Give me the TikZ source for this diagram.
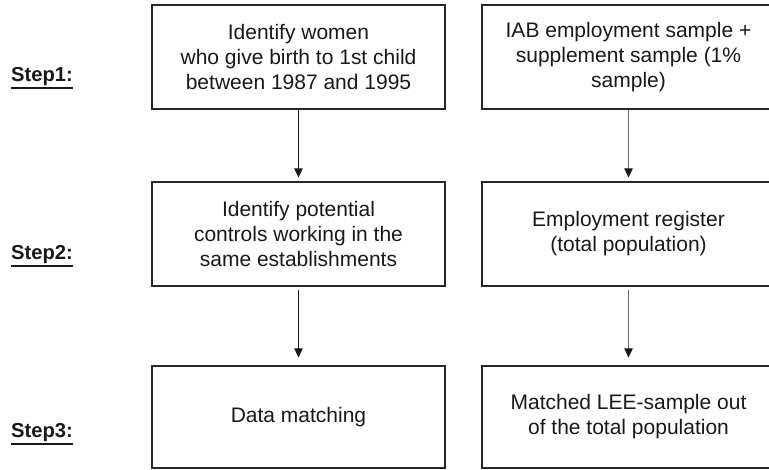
\documentclass[tikz,border=0pt]{standalone}
\usepackage{fontspec}
\setmainfont{Liberation Sans}
\usetikzlibrary{arrows.meta}
\begin{document}
\begin{tikzpicture}[x=1pt,y=1pt,
 box/.style={draw=black!85, line width=1.2pt, minimum width=293pt, align=center, inner sep=0pt, text=black!90, font=\fontsize{21}{25}\selectfont},
 steplabel/.style={anchor=base west, inner sep=0pt, font=\bfseries\fontsize{20.2}{23}\selectfont, text=black!90},
 uline/.style={line width=2.2pt, draw=black!90},
 arrl/.style={line width=1.1pt, draw=black!90, -{Triangle[width=8.5pt,length=9pt]}},
 arrr/.style={line width=1.1pt, draw=black!60, -{Triangle[width=8.5pt,length=9pt,color=black!90]}},
]
\useasboundingbox (0,0) rectangle (769,-470);
\clip (0,0) rectangle (769,-470);

\node[box, minimum height=104pt] (l1) at (298.5,-57) {Identify women\\who give birth to 1st child\\between 1987 and 1995};
\node[box, minimum height=104pt] (r1) at (628.5,-57) {IAB employment sample +\\supplement sample (1\%\\sample)};
\node[box, minimum height=104pt] (l2) at (298.5,-234) {Identify potential\\controls working in the\\same establishments};
\node[box, minimum height=104pt] (r2) at (628.5,-234) {Employment register\\(total population)};
\node[box, minimum height=102pt] (l3) at (298.5,-417) {Data matching};
\node[box, minimum height=102pt] (r3) at (628.5,-417) {Matched LEE-sample out\\of the total population};

\draw[arrl, shorten >=4pt] (l1) -- (l2);
\draw[arrl, shorten <=3pt, shorten >=8pt] (l2) -- (l3);
\draw[arrr, shorten >=4pt] (r1) -- (r2);
\draw[arrr, shorten <=3pt, shorten >=8pt] (r2) -- (r3);

\node[steplabel] (s1) at (11,-82) {Step1:};
\node[steplabel] (s2) at (11,-260) {Step2:};
\node[steplabel] (s3) at (11,-438) {Step3:};
\draw[uline] ([yshift=-5.8pt]s1.base west) -- ([yshift=-5.8pt]s1.base east);
\draw[uline] ([yshift=-5.8pt]s2.base west) -- ([yshift=-5.8pt]s2.base east);
\draw[uline] ([yshift=-5.8pt]s3.base west) -- ([yshift=-5.8pt]s3.base east);
\end{tikzpicture}
\end{document}
